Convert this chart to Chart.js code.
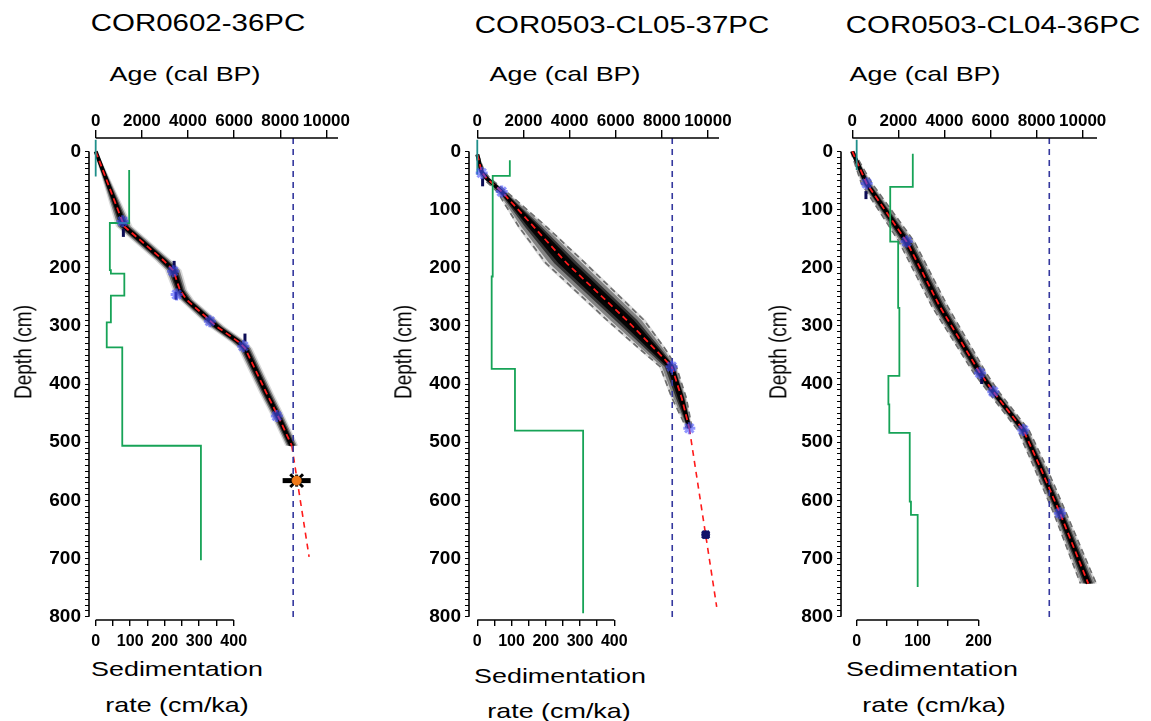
<!DOCTYPE html>
<html>
<head>
<meta charset="utf-8">
<script src="https://cdn.jsdelivr.net/npm/chart.js@4.4.0/dist/chart.umd.min.js"></script>
<style>
body { margin: 0; background: #fff; width: 1151px; height: 721px; position: relative; overflow: hidden; font-family: "Liberation Sans", Arial, sans-serif; }
canvas { position: absolute; }
.lbl { position: absolute; white-space: nowrap; color: #000; line-height: 1; transform: translate(-50%, -50%) scaleX(1.28); }
.rot { transform: translate(-50%, -50%) rotate(-90deg) scaleY(1.3); }
</style>
</head>
<body>
<script>
// ---- axis ticks ----
const ageTicks = [0, 2000, 4000, 6000, 8000, 10000]
const depthLabels = [0, 100, 200, 300, 400, 500, 600, 700, 800]
const sedTicksWide = [0, 50, 100, 150, 200, 250, 300, 350, 400]
const sedTicksNarrow = [0, 50, 100, 150, 200]

// ---- COR0602-36PC ----
const p1Depth  = [0, 129, 152, 187, 204, 238, 255, 301, 327, 338, 416, 462, 506]
const p1Age    = [0, 1240, 1920, 2930, 3360, 3650, 3940, 5245, 6180, 6470, 7410, 7990, 8500]
const p1Spread = [60, 330, 330, 330, 330, 290, 290, 330, 330, 290, 280, 260, 260]
const p1ExtDepth = [506, 697]
const p1ExtAge   = [8500, 9250]
const p1SedDepth = [32, 123, 123, 204, 204, 210, 210, 248, 248, 294, 294, 337, 337, 506, 506, 703]
const p1SedRate  = [97, 97, 41, 41, 44, 44, 83, 83, 44, 44, 32, 32, 77, 77, 305, 305]
const p1TopDepth = [-20, 43]
const p1DateAge   = [1170, 3360, 3510, 4950, 6400, 7850]
const p1DateDepth = [120, 206, 246, 292, 335, 455]
const p1BarAge   = [1200, 3400, 3480, 6470]
const p1BarDepth = [140, 195, 248, 320]
const p1OutAge   = [8710]
const p1OutDepth = [566]
const p1Event = 8560

// ---- COR0503-CL05-37PC ----
const p2Depth    = [5, 35, 46, 69, 130, 192, 290, 340, 370, 424, 476]
const p2Age      = [0, 190, 400, 1060, 2460, 3875, 6476, 7700, 8426, 8860, 9190]
const p2SpreadLo = [30, 120, 150, 200, 650, 900, 850, 650, 500, 420, 120]
const p2SpreadHi = [30, 120, 150, 200, 550, 800, 750, 450, 200, 200, 120]
const p2ExtDepth = [476, 783]
const p2ExtAge   = [9190, 10377]
const p2SedDepth = [15, 42, 42, 215, 215, 374, 374, 480, 480, 794]
const p2SedRate  = [95, 95, 45, 45, 42, 42, 110, 110, 309, 309]
const p2TopDepth = [-20, 40]
const p2DateAge   = [190, 1058, 8426, 9190]
const p2DateDepth = [37, 69, 370, 476]
const p2BarAge   = [230]
const p2BarDepth = [53]
const p2OutAge   = [9900]
const p2OutDepth = [659]
const p2Event = 8450

// ---- COR0503-CL04-36PC ----
const p3Depth  = [0, 55, 155, 267, 381, 413, 479, 542, 622, 743]
const p3Age    = [0, 625, 2360, 3806, 5542, 6120, 7422, 8147, 9015, 10243]
const p3Spread = [60, 230, 330, 340, 270, 230, 240, 270, 270, 340]
const p3SedDepth = [4, 61, 61, 155, 155, 269, 269, 386, 386, 435, 435, 484, 484, 602, 602, 625, 625, 749]
const p3SedRate  = [92, 92, 55, 55, 68, 68, 70, 70, 52, 52, 53.5, 53.5, 87, 87, 89, 89, 100, 100]
const p3TopDepth = [-20, 32]
const p3DateAge   = [625, 2360, 5542, 6120, 7422, 9015]
const p3DateDepth = [55, 155, 381, 413, 479, 622]
const p3BarAge   = [593, 5616]
const p3BarDepth = [75, 393]
const p3Event = 8550

const TICK_FONT = '"Liberation Sans", Arial, sans-serif'

function pts(xs, ys) {
    return xs.map((x, i) => ({x: x, y: ys[i]}))
}

// closed outline around the age model: down the young side, back up the old side
function envelope(depth, age, lo, hi, frac) {
    let left = depth.map((d, i) => ({x: age[i] - lo[i] * frac, y: d}))
    let right = depth.map((d, i) => ({x: age[i] + hi[i] * frac, y: d})).reverse()
    return left.concat(right)
}

const axisLines = {
    id: 'axisLines',
    afterDraw(chart, args, opts) {
        const {ctx, chartArea, scales} = chart
        ctx.save()
        ctx.strokeStyle = '#000'
        ctx.lineWidth = 1.6
        ctx.beginPath()
        ctx.moveTo(scales.age.getPixelForValue(0), chartArea.top)
        ctx.lineTo(chartArea.right, chartArea.top)
        ctx.moveTo(chartArea.left, scales.depth.getPixelForValue(0))
        ctx.lineTo(chartArea.left, scales.depth.getPixelForValue(800))
        ctx.moveTo(scales.sed.getPixelForValue(0), chartArea.bottom)
        ctx.lineTo(scales.sed.getPixelForValue(opts.sedEnd), chartArea.bottom)
        ctx.stroke()
        ctx.restore()
    }
}

function lineSet(data, axis, color, width, dash) {
    return {
        data: data, xAxisID: axis, yAxisID: 'depth', showLine: true, pointRadius: 0,
        borderColor: color, borderWidth: width, borderDash: dash || [], fill: false, tension: 0
    }
}

function bandSet(data, alpha) {
    return {
        data: data, xAxisID: 'age', yAxisID: 'depth', showLine: true, pointRadius: 0,
        borderWidth: 0, borderColor: 'rgba(0,0,0,0)', backgroundColor: `rgba(0,0,0,${alpha})`, fill: 'shape'
    }
}

function markSet(data, style, radius, color, width, rotation, bg) {
    return {
        data: data, xAxisID: 'age', yAxisID: 'depth', showLine: false,
        pointStyle: style, pointRadius: radius, pointBorderColor: color, pointBorderWidth: width,
        pointBackgroundColor: bg || color, pointRotation: rotation || 0
    }
}

function makePanel(p) {
    const canvas = document.createElement('canvas')
    const w = p.area[1] - p.area[0] + 90
    canvas.width = w
    canvas.height = 557
    canvas.style.left = (p.area[0] - 60) + 'px'
    canvas.style.top = '98px'
    canvas.style.width = w + 'px'
    canvas.style.height = '557px'
    document.body.appendChild(canvas)

    let datasets = []
    // markers on top
    if (p.outAge && p.outKind === 'orange') {
        datasets.push(markSet(pts(p.outAge, p.outDepth), 'circle', 4.5, '#f07a1a', 1, 0, '#f07a1a'))
        datasets.push(markSet(pts(p.outAge, p.outDepth), 'line', 6, '#000', 3, 90))
        datasets.push(markSet(pts(p.outAge, p.outDepth), 'crossRot', 9, '#000', 3))
        datasets.push(markSet(pts(p.outAge, p.outDepth), 'line', 14, '#000', 5, 0))
    } else if (p.outAge) {
        datasets.push(markSet(pts(p.outAge, p.outDepth), 'crossRot', 5, '#10106a', 3))
        datasets.push(markSet(pts(p.outAge, p.outDepth), 'circle', 4, '#10106a', 1))
    }
    datasets.push(markSet(pts(p.dateAge, p.dateDepth), 'star', 6, 'rgba(70,80,255,0.6)', 3))
    datasets.push(markSet(pts(p.barAge, p.barDepth), 'line', 4, '#0c0c55', 3, 90))
    datasets.push(lineSet(pts([p.event, p.event], [-23, 802]), 'age', '#34389e', 1.6, [6, 5]))
    datasets.push(lineSet(pts([0, 0], p.topDepth), 'sed', '#1f8f8a', 1.8))
    datasets.push(lineSet(pts(p.sedRate, p.sedDepth), 'sed', '#17a357', 1.8))
    if (p.extAge) datasets.push(lineSet(pts(p.extAge, p.extDepth), 'age', '#ff1a1a', 1.6, [6, 5]))
    datasets.push(lineSet(pts(p.age, p.depth), 'age', '#ff1a1a', 1.8, [6, 4]))
    datasets.push(lineSet(pts(p.age, p.depth), 'age', '#000', 4))
    if (p.dashedEnvelope) {
        let lo = p.depth.map((d, i) => ({x: p.age[i] - p.lo[i], y: d}))
        let hi = p.depth.map((d, i) => ({x: p.age[i] + p.hi[i], y: d}))
        datasets.push(lineSet(lo, 'age', '#6e6e6e', 1.7, [6, 4]))
        datasets.push(lineSet(hi, 'age', '#6e6e6e', 1.7, [6, 4]))
    }
    datasets.push(bandSet(envelope(p.depth, p.age, p.lo, p.hi, 0.4), 0.9))
    datasets.push(bandSet(envelope(p.depth, p.age, p.lo, p.hi, 0.6), 0.6))
    datasets.push(bandSet(envelope(p.depth, p.age, p.lo, p.hi, 0.85), 0.4))
    datasets.push(bandSet(envelope(p.depth, p.age, p.lo, p.hi, 1.1), 0.15))

    const tickStyle = (size) => ({font: {family: TICK_FONT, size: size, weight: 'bold'}, color: '#000'})

    new Chart(canvas, {
        type: 'line',
        data: {datasets: datasets},
        options: {
            responsive: false,
            devicePixelRatio: 1,
            animation: false,
            events: [],
            layout: {padding: {left: 0, top: 0, right: 30, bottom: 0}},
            plugins: {legend: {display: false}, tooltip: {enabled: false}, axisLines: {sedEnd: p.sedTicks[p.sedTicks.length - 1]}},
            scales: {
                age: {
                    type: 'linear', position: 'top', min: p.ageRange[0], max: p.ageRange[1],
                    afterBuildTicks: s => { s.ticks = ageTicks.map(v => ({value: v})) },
                    afterFit: s => { s.height = 40 },
                    border: {display: false},
                    grid: {drawOnChartArea: false, tickLength: 8, color: '#000', lineWidth: 1.4},
                    ticks: Object.assign(tickStyle(17), {padding: -2, autoSkip: false, maxRotation: 0, callback: v => String(v)})
                },
                depth: {
                    type: 'linear', position: 'left', reverse: true, min: -23.2, max: 805.7,
                    afterBuildTicks: s => {
                        let t = []
                        for (let v = 0; v <= 800; v += 10) t.push({value: v})
                        s.ticks = t
                    },
                    afterFit: s => { s.width = 60 },
                    border: {display: false},
                    grid: {drawOnChartArea: false, tickLength: 4, color: '#000', lineWidth: 1},
                    ticks: Object.assign(tickStyle(19), {padding: 4, autoSkip: false,
                        callback: v => depthLabels.includes(v) ? String(v) : ''})
                },
                sed: {
                    type: 'linear', position: 'bottom', min: p.sedRange[0], max: p.sedRange[1],
                    afterBuildTicks: s => { s.ticks = p.sedTicks.map(v => ({value: v})) },
                    afterFit: s => { s.height = 35 },
                    border: {display: false},
                    grid: {drawOnChartArea: false, tickLength: 6, color: '#000', lineWidth: 1.4},
                    ticks: Object.assign(tickStyle(16), {padding: 6, autoSkip: false, maxRotation: 0,
                        callback: v => v % 100 === 0 ? String(v) : ''})
                }
            }
        },
        plugins: [axisLines]
    })
}

makePanel({
    area: [89, 338], ageRange: [-290, 10503], sedRange: [-19.4, 702.3], sedTicks: sedTicksWide,
    depth: p1Depth, age: p1Age, lo: p1Spread, hi: p1Spread, dashedEnvelope: false,
    extAge: p1ExtAge, extDepth: p1ExtDepth, sedRate: p1SedRate, sedDepth: p1SedDepth, topDepth: p1TopDepth,
    dateAge: p1DateAge, dateDepth: p1DateDepth, barAge: p1BarAge, barDepth: p1BarDepth,
    outAge: p1OutAge, outDepth: p1OutDepth, outKind: 'orange', event: p1Event
})
makePanel({
    area: [469, 719], ageRange: [-360, 10477], sedRange: [-24.2, 705.7], sedTicks: sedTicksWide,
    depth: p2Depth, age: p2Age, lo: p2SpreadLo, hi: p2SpreadHi, dashedEnvelope: true,
    extAge: p2ExtAge, extDepth: p2ExtDepth, sedRate: p2SedRate, sedDepth: p2SedDepth, topDepth: p2TopDepth,
    dateAge: p2DateAge, dateDepth: p2DateDepth, barAge: p2BarAge, barDepth: p2BarDepth,
    outAge: p2OutAge, outDepth: p2OutDepth, outKind: 'navy', event: p2Event
})
makePanel({
    area: [841, 1097], ageRange: [-490, 10621], sedRange: [-25.7, 394], sedTicks: sedTicksNarrow,
    depth: p3Depth, age: p3Age, lo: p3Spread, hi: p3Spread, dashedEnvelope: true,
    sedRate: p3SedRate, sedDepth: p3SedDepth, topDepth: p3TopDepth,
    dateAge: p3DateAge, dateDepth: p3DateDepth, barAge: p3BarAge, barDepth: p3BarDepth,
    event: p3Event
})

// titles and axis names
const labels = [
    ['COR0602-36PC', 198, 23, 23, ''], ['COR0503-CL05-37PC', 622, 25, 23, ''], ['COR0503-CL04-36PC', 993, 25, 23, ''],
    ['Age (cal BP)', 185, 73, 21, ''], ['Age (cal BP)', 565, 73, 21, ''], ['Age (cal BP)', 925, 73, 21, ''],
    ['Depth (cm)', 23, 352, 19, 'rot'], ['Depth (cm)', 403, 352, 19, 'rot'], ['Depth (cm)', 778, 352, 19, 'rot'],
    ['Sedimentation', 177, 668, 21, ''], ['rate (cm/ka)', 177, 704, 21, ''],
    ['Sedimentation', 560, 675, 21, ''], ['rate (cm/ka)', 559, 710, 21, ''],
    ['Sedimentation', 932, 668, 21, ''], ['rate (cm/ka)', 934, 704, 21, '']
]
labels.forEach(([text, x, y, size, cls]) => {
    let d = document.createElement('div')
    d.className = 'lbl ' + cls
    d.textContent = text
    d.style.left = x + 'px'
    d.style.top = y + 'px'
    d.style.fontSize = size + 'px'
    document.body.appendChild(d)
})
</script>
</body>
</html>
